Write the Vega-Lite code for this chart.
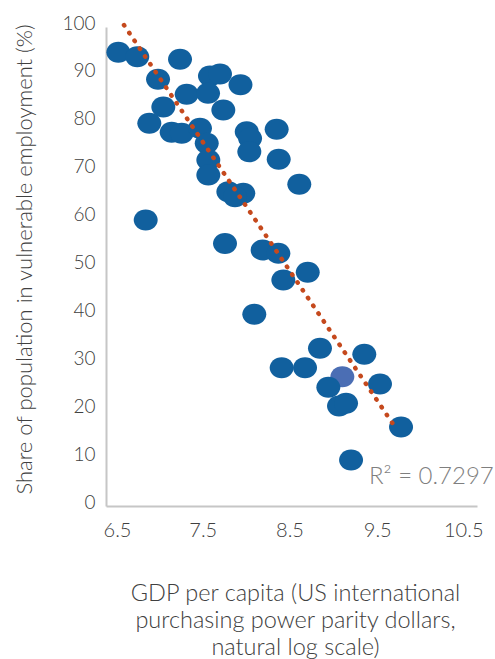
{
  "$schema": "https://vega.github.io/schema/vega-lite/v6.json",
  "width": 371,
  "height": 479,
  "autosize": {"type": "none"},
  "padding": {"left": 106, "top": 27, "right": 18, "bottom": 153},
  "background": "white",
  "config": {"view": {"stroke": null}, "font": "Lato"},
  "datasets": {
    "pts": [
      {"gdp": 6.633, "share": 94.72, "group": "other"},
      {"gdp": 6.837, "share": 93.80, "group": "other"},
      {"gdp": 7.298, "share": 93.26, "group": "other"},
      {"gdp": 7.061, "share": 89.08, "group": "other"},
      {"gdp": 7.621, "share": 89.77, "group": "other"},
      {"gdp": 7.729, "share": 90.19, "group": "other"},
      {"gdp": 7.950, "share": 87.95, "group": "other"},
      {"gdp": 7.370, "share": 85.95, "group": "other"},
      {"gdp": 7.600, "share": 86.16, "group": "other"},
      {"gdp": 7.118, "share": 83.30, "group": "other"},
      {"gdp": 7.765, "share": 82.67, "group": "other"},
      {"gdp": 6.967, "share": 79.90, "group": "other"},
      {"gdp": 7.208, "share": 78.02, "group": "other"},
      {"gdp": 7.316, "share": 77.81, "group": "other"},
      {"gdp": 7.513, "share": 78.85, "group": "other"},
      {"gdp": 7.586, "share": 75.72, "group": "other"},
      {"gdp": 7.603, "share": 72.23, "group": "other"},
      {"gdp": 7.603, "share": 69.10, "group": "other"},
      {"gdp": 7.819, "share": 65.62, "group": "other"},
      {"gdp": 7.980, "share": 65.28, "group": "other"},
      {"gdp": 7.891, "share": 64.57, "group": "other"},
      {"gdp": 8.017, "share": 78.14, "group": "other"},
      {"gdp": 8.053, "share": 76.76, "group": "other"},
      {"gdp": 8.045, "share": 73.97, "group": "other"},
      {"gdp": 8.340, "share": 78.64, "group": "other"},
      {"gdp": 8.362, "share": 72.38, "group": "other"},
      {"gdp": 8.584, "share": 67.16, "group": "other"},
      {"gdp": 6.928, "share": 59.71, "group": "other"},
      {"gdp": 7.783, "share": 54.80, "group": "other"},
      {"gdp": 8.189, "share": 53.44, "group": "other"},
      {"gdp": 8.358, "share": 52.76, "group": "other"},
      {"gdp": 8.412, "share": 47.18, "group": "other"},
      {"gdp": 8.675, "share": 48.79, "group": "other"},
      {"gdp": 8.099, "share": 40.02, "group": "other"},
      {"gdp": 8.807, "share": 32.92, "group": "other"},
      {"gdp": 8.394, "share": 28.87, "group": "other"},
      {"gdp": 8.646, "share": 28.87, "group": "other"},
      {"gdp": 9.285, "share": 31.67, "group": "other"},
      {"gdp": 9.048, "share": 26.99, "group": "highlight"},
      {"gdp": 8.897, "share": 24.78, "group": "other"},
      {"gdp": 9.454, "share": 25.47, "group": "other"},
      {"gdp": 9.012, "share": 20.88, "group": "other"},
      {"gdp": 9.088, "share": 21.44, "group": "other"},
      {"gdp": 9.681, "share": 16.49, "group": "other"},
      {"gdp": 9.142, "share": 9.60, "group": "other"}
    ],
    "trend": [
      {"x1": 6.694, "y1": 100.4, "x2": 9.616, "y2": 16.5}
    ],
    "note": [
      {"gdp": 9.336, "share": 6.05, "label": "R² = 0.7297"}
    ]
  },
  "layer": [
    {
      "data": {"name": "pts"},
      "mark": {
        "type": "point",
        "filled": true,
        "opacity": 1,
        "shape": "M -1 0 A 1 0.875 0 1 1 1 0 A 1 0.875 0 1 1 -1 0 Z",
        "size": 576
      },
      "encoding": {
        "x": {
          "field": "gdp",
          "type": "quantitative",
          "scale": {"domain": [6.5, 10.5], "nice": false, "zero": false},
          "axis": {
            "values": [6.5, 7.5, 8.5, 9.5, 10.5],
            "format": ".1f",
            "grid": false,
            "ticks": false,
            "domainColor": "#c6c6c6",
            "domainWidth": 2,
            "labelFont": "Lato",
            "labelFontWeight": 300,
            "labelFontSize": 20,
            "labelColor": "#404040",
            "labelPadding": 14,
            "labelFlush": false,
            "labelOverlap": false,
            "labelAlign": {"condition": {"test": "datum.value > 10", "value": "right"}, "value": "center"},
            "labelOffset": {"condition": [
              {"test": "datum.value == 6.5", "value": 11},
              {"test": "datum.value == 7.5", "value": 4},
              {"test": "datum.value == 8.5", "value": -2},
              {"test": "datum.value == 9.5", "value": -7},
              {"test": "datum.value == 10.5", "value": 6}
            ], "value": 0},
            "title": ["GDP per capita (US international", "purchasing power parity dollars,", "natural log scale)"],
            "titleFont": "Lato",
            "titleFontWeight": 300,
            "titleFontSize": 23.5,
            "titleColor": "#404040",
            "titleLineHeight": 27,
            "titleBaseline": "top",
            "titleAlign": "center",
            "titleX": 189,
            "titleY": 75
          }
        },
        "y": {
          "field": "share",
          "type": "quantitative",
          "scale": {"domain": [0, 100], "nice": false},
          "axis": {
            "values": [0, 10, 20, 30, 40, 50, 60, 70, 80, 90, 100],
            "grid": false,
            "ticks": false,
            "domainColor": "#c6c6c6",
            "domainWidth": 2,
            "labelFont": "Lato",
            "labelFontWeight": 300,
            "labelFontSize": 19,
            "labelColor": "#404040",
            "labelPadding": 11,
            "labelOffset": -4,
            "labelFlush": false,
            "labelOverlap": false,
            "title": "Share of population in vulnerable employment (%)",
            "titleFont": "Lato",
            "titleFontWeight": 300,
            "titleFontSize": 22,
            "titleColor": "#404040",
            "titleAngle": -90,
            "titleAlign": "center",
            "titleBaseline": "middle",
            "titleX": -82,
            "titleY": 232
          }
        },
        "color": {
          "field": "group",
          "type": "nominal",
          "scale": {"domain": ["other", "highlight"], "range": ["#11609e", "#4b6eb4"]},
          "legend": null
        }
      }
    },
    {
      "data": {"name": "trend"},
      "mark": {
        "type": "rule",
        "color": "#c5491d",
        "strokeWidth": 4.5,
        "strokeCap": "round",
        "strokeDash": [0.5, 8.9]
      },
      "encoding": {
        "x": {"field": "x1", "type": "quantitative"},
        "y": {"field": "y1", "type": "quantitative"},
        "x2": {"field": "x2"},
        "y2": {"field": "y2"}
      }
    },
    {
      "data": {"name": "note"},
      "mark": {
        "type": "text",
        "font": "Lato",
        "fontWeight": 300,
        "fontSize": 24,
        "color": "#7f7f7f",
        "align": "left",
        "baseline": "middle"
      },
      "encoding": {
        "x": {"field": "gdp", "type": "quantitative"},
        "y": {"field": "share", "type": "quantitative"},
        "text": {"field": "label"}
      }
    }
  ]
}
